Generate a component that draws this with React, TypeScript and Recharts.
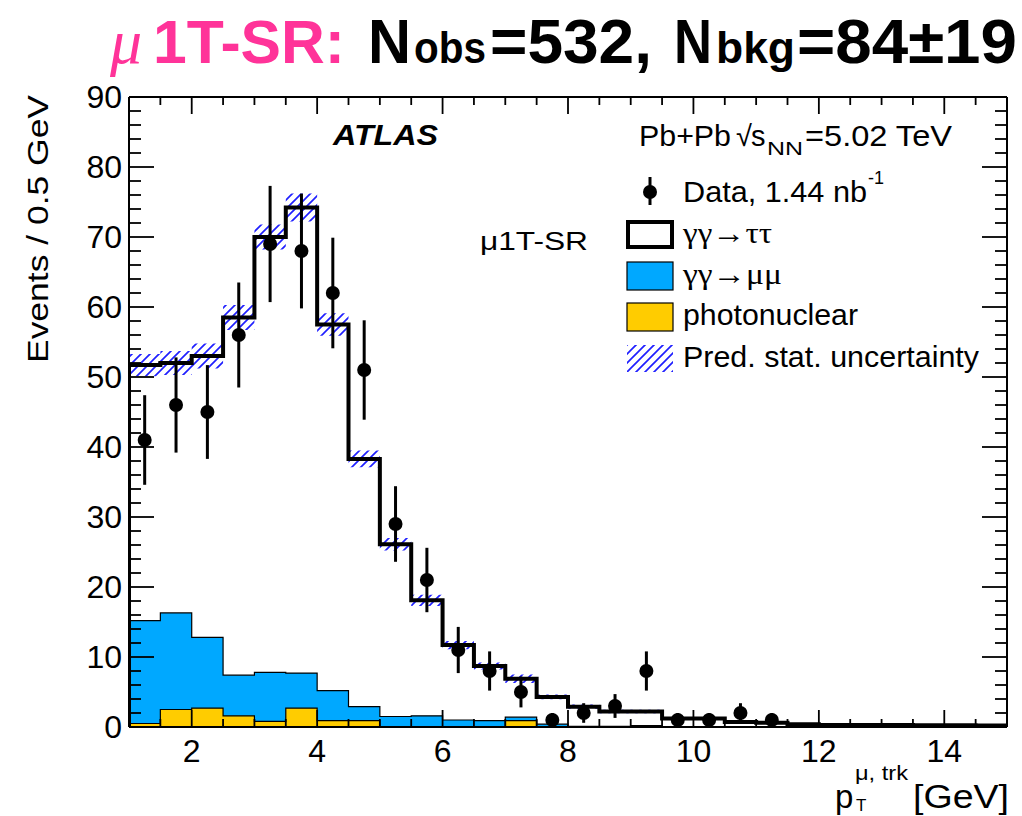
import React from 'react';
import { ComposedChart, Area, Line, Scatter, XAxis, YAxis, ErrorBar } from 'recharts';

// Bin lower edges (0.5 GeV bins from 1 to 15 GeV)
const binLow = [1, 1.5, 2, 2.5, 3, 3.5, 4, 4.5, 5, 5.5, 6, 6.5, 7, 7.5, 8, 8.5, 9, 9.5, 10, 10.5, 11, 11.5, 12, 12.5, 13, 13.5, 14, 14.5];
// Stack top of all predictions (gamma gamma -> tau tau on top)
const totalPred = [51.7, 52.0, 53.0, 58.5, 70.0, 74.2, 57.5, 38.3, 26.1, 18.1, 11.7, 8.7, 6.9, 4.3, 2.9, 2.2, 2.2, 1.2, 1.2, 0.7, 0.6, 0.4, 0.3, 0.3, 0.3, 0.25, 0.25, 0.2];
// Stack top of gamma gamma -> mu mu (includes photonuclear below)
const mumuTop = [15.2, 16.3, 12.8, 7.4, 7.8, 7.7, 5.2, 2.9, 1.5, 1.6, 1.0, 0.9, 1.4, 0.4, 0.1, 0.1, 0.2, 0.05, 0.05, 0, 0, 0, 0, 0, 0, 0, 0, 0];
// Photonuclear
const photoTop = [0.5, 2.5, 2.7, 1.6, 0.8, 2.7, 0.9, 0.9, 0, 0, 0, 0, 0.9, 0, 0, 0, 0, 0, 0, 0, 0, 0, 0, 0, 0, 0, 0, 0];
// Prediction stat. uncertainty (half width)
const predUnc = [1.6, 1.7, 1.8, 1.8, 1.8, 2.0, 1.6, 1.2, 0.9, 0.8, 0.6, 0.5, 0.6, 0.35, 0.3, 0.25, 0.25, 0.2, 0.2, 0.15, 0.15, 0.15, 0.15, 0.15, 0.15, 0.15, 0.15, 0.15];

// Data
const obsX = [1.25, 1.75, 2.25, 2.75, 3.25, 3.75, 4.25, 4.75, 5.25, 5.75, 6.25, 6.75, 7.25, 7.75, 8.25, 8.75, 9.25, 9.75, 10.25, 10.75, 11.25];
const obsY = [41, 46, 45, 56, 69, 68, 62, 51, 29, 21, 11, 8, 5, 1, 2, 3, 8, 1, 1, 2, 1];
const obsErr = [6.4, 6.8, 6.7, 7.5, 8.3, 8.2, 7.9, 7.1, 5.4, 4.6, 3.3, 2.8, 2.2, 1.0, 1.4, 1.7, 2.8, 1.0, 1.0, 1.4, 1.0];

const xTicks = [1, 1.5, 2, 2.5, 3, 3.5, 4, 4.5, 5, 5.5, 6, 6.5, 7, 7.5, 8, 8.5, 9, 9.5, 10, 10.5, 11, 11.5, 12, 12.5, 13, 13.5, 14, 14.5, 15];
const yTicks = [0, 2, 4, 6, 8, 10, 12, 14, 16, 18, 20, 22, 24, 26, 28, 30, 32, 34, 36, 38, 40, 42, 44, 46, 48, 50, 52, 54, 56, 58, 60, 62, 64, 66, 68, 70, 72, 74, 76, 78, 80, 82, 84, 86, 88, 90];

const FONT = '"Liberation Sans", Arial, Helvetica, sans-serif';
const SERIF = '"Liberation Serif", "Times New Roman", serif';
const BLUE = '#00a8ff';
const YELLOW = '#ffcc00';
const PINK = '#ff3399';
const HATCH = '#1f1fff';

const n = binLow.length;
const histData = [
  { x: 1, total: 0, mumu: 0, photo: 0, unc: [totalPred[0] - predUnc[0], totalPred[0] + predUnc[0]] },
  ...binLow.map((x, i) => ({
    x,
    total: totalPred[i],
    mumu: mumuTop[i],
    photo: photoTop[i],
    unc: [totalPred[i] - predUnc[i], totalPred[i] + predUnc[i]],
  })),
  {
    x: 15,
    total: totalPred[n - 1],
    mumu: mumuTop[n - 1],
    photo: photoTop[n - 1],
    unc: [totalPred[n - 1] - predUnc[n - 1], totalPred[n - 1] + predUnc[n - 1]],
  },
];

const obsData = obsX.map((x, i) => ({ x, y: obsY[i], err: obsErr[i] }));

const isMajorX = (v: number) => Math.abs(v / 2 - Math.round(v / 2)) < 1e-6;
const isMajorY = (v: number) => Math.abs(v / 10 - Math.round(v / 10)) < 1e-6;

const XTickBottom = (props: any) => {
  const { x, y, payload } = props;
  const v = payload.value;
  const major = isMajorX(v);
  return (
    <g>
      <line x1={x} x2={x} y1={y} y2={y - (major ? 17 : 8)} stroke="#000" strokeWidth={1.8} />
      {major && v > 1 && v < 15 && (
        <text x={x} y={y + 35} textAnchor="middle" fontSize={32} fontFamily={FONT} fill="#000">
          {v}
        </text>
      )}
    </g>
  );
};

const XTickTop = (props: any) => {
  const { x, y, payload } = props;
  const major = isMajorX(payload.value);
  return <line x1={x} x2={x} y1={y} y2={y + (major ? 17 : 8)} stroke="#000" strokeWidth={1.8} />;
};

const YTickLeft = (props: any) => {
  const { x, y, payload } = props;
  const v = payload.value;
  const major = isMajorY(v);
  return (
    <g>
      <line x1={x} x2={x + (major ? 25 : 12)} y1={y} y2={y} stroke="#000" strokeWidth={1.8} />
      {major && (
        <text x={x - 7} y={y + 11} textAnchor="end" fontSize={32} fontFamily={FONT} fill="#000">
          {v}
        </text>
      )}
    </g>
  );
};

const YTickRight = (props: any) => {
  const { x, y, payload } = props;
  const major = isMajorY(payload.value);
  return <line x1={x} x2={x - (major ? 25 : 12)} y1={y} y2={y} stroke="#000" strokeWidth={1.8} />;
};

const Dot = (p: any) => <circle cx={p.cx} cy={p.cy} r={7} fill="#000" />;

export default function App() {
  return (
    <div style={{ position: 'absolute', left: 0, top: 0, width: 1022, height: 816, background: '#fff' }}>
      <div style={{ position: 'absolute', left: 0, top: 0 }}>
        <ComposedChart
          width={1022}
          height={816}
          data={histData}
          margin={{ top: 96, right: 14, bottom: 49, left: 69 }}
        >
          <defs>
            <pattern id="hatch" patternUnits="userSpaceOnUse" width="9" height="9">
              <path d="M0,9 L9,0 M-2,2 L2,-2 M7,11 L11,7" stroke={HATCH} strokeWidth={1.7} />
            </pattern>
          </defs>
          <Area
            dataKey="mumu"
            type="stepAfter"
            fill={BLUE}
            fillOpacity={1}
            stroke="#000"
            strokeWidth={1.2}
            dot={false}
            activeDot={false}
            isAnimationActive={false}
          />
          <Area
            dataKey="photo"
            type="stepAfter"
            fill={YELLOW}
            fillOpacity={1}
            stroke="#000"
            strokeWidth={1.2}
            dot={false}
            activeDot={false}
            isAnimationActive={false}
          />
          <Area
            dataKey="unc"
            type="stepAfter"
            fill="url(#hatch)"
            fillOpacity={1}
            stroke="none"
            dot={false}
            activeDot={false}
            isAnimationActive={false}
          />
          <Line
            dataKey="total"
            type="stepAfter"
            stroke="#000"
            strokeWidth={4}
            strokeLinejoin="miter"
            dot={false}
            activeDot={false}
            isAnimationActive={false}
          />
          <Scatter data={obsData} dataKey="y" shape={Dot} isAnimationActive={false}>
            <ErrorBar dataKey="err" direction="y" width={0} stroke="#000" strokeWidth={3} isAnimationActive={false} />
          </Scatter>
          <XAxis
            dataKey="x"
            type="number"
            domain={[1, 15]}
            allowDataOverflow
            ticks={xTicks}
            interval={0}
            height={40}
            tickSize={0}
            tickMargin={0}
            tickLine={false}
            axisLine={{ stroke: '#000', strokeWidth: 2 }}
            tick={<XTickBottom />}
          />
          <XAxis
            xAxisId="top"
            orientation="top"
            dataKey="x"
            type="number"
            domain={[1, 15]}
            allowDataOverflow
            ticks={xTicks}
            interval={0}
            height={1}
            tickSize={0}
            tickMargin={0}
            tickLine={false}
            axisLine={{ stroke: '#000', strokeWidth: 2 }}
            tick={<XTickTop />}
          />
          <YAxis
            type="number"
            domain={[0, 90]}
            allowDataOverflow
            ticks={yTicks}
            interval={0}
            width={60}
            tickSize={0}
            tickMargin={0}
            tickLine={false}
            axisLine={{ stroke: '#000', strokeWidth: 2 }}
            tick={<YTickLeft />}
          />
          <YAxis
            yAxisId="right"
            orientation="right"
            type="number"
            domain={[0, 90]}
            allowDataOverflow
            ticks={yTicks}
            interval={0}
            width={1}
            tickSize={0}
            tickMargin={0}
            tickLine={false}
            axisLine={{ stroke: '#000', strokeWidth: 2 }}
            tick={<YTickRight />}
          />
        </ComposedChart>
      </div>
      <svg
        width={1022}
        height={816}
        style={{ position: 'absolute', left: 0, top: 0, pointerEvents: 'none' }}
      >
        <defs>
          <pattern id="hatch2" patternUnits="userSpaceOnUse" width="9" height="9">
            <path d="M0,9 L9,0 M-2,2 L2,-2 M7,11 L11,7" stroke={HATCH} strokeWidth={1.7} />
          </pattern>
        </defs>
        {/* Title */}
        <text x={110} y={63} fontSize={64} fontFamily={SERIF} fontStyle="italic" fill={PINK}>μ</text>
        <text x={153} y={63} fontSize={61} fontFamily={FONT} fontWeight="bold" fill={PINK} textLength={192} lengthAdjust="spacingAndGlyphs">1T-SR:</text>
        <text x={368} y={63} fontSize={63} fontFamily={FONT} fontWeight="bold" fill="#000" textLength={43} lengthAdjust="spacingAndGlyphs">N</text>
        <text x={414} y={63} fontSize={44} fontFamily={FONT} fontWeight="bold" fill="#000" textLength={72} lengthAdjust="spacingAndGlyphs">obs</text>
        <text x={490} y={63} fontSize={63} fontFamily={FONT} fontWeight="bold" fill="#000" textLength={162} lengthAdjust="spacingAndGlyphs">=532,</text>
        <text x={674} y={63} fontSize={63} fontFamily={FONT} fontWeight="bold" fill="#000" textLength={38} lengthAdjust="spacingAndGlyphs">N</text>
        <text x={716} y={63} fontSize={44} fontFamily={FONT} fontWeight="bold" fill="#000" textLength={79} lengthAdjust="spacingAndGlyphs">bkg</text>
        <text x={797} y={63} fontSize={63} fontFamily={FONT} fontWeight="bold" fill="#000" textLength={220} lengthAdjust="spacingAndGlyphs">=84±19</text>
        {/* ATLAS */}
        <text x={333} y={145} fontSize={30} fontFamily={FONT} fontWeight="bold" fontStyle="italic" textLength={105} lengthAdjust="spacingAndGlyphs">ATLAS</text>
        {/* Pb+Pb sqrt(s_NN) */}
        <text x={639} y={146} fontSize={29} fontFamily={FONT} textLength={92} lengthAdjust="spacingAndGlyphs">Pb+Pb</text>
        <text x={736} y={146} fontSize={29} fontFamily={FONT}>√</text>
        <text x={751} y={146} fontSize={29} fontFamily={FONT}>s</text>
        <text x={767} y={155} fontSize={18} fontFamily={FONT} textLength={36} lengthAdjust="spacingAndGlyphs">NN</text>
        <text x={805} y={146} fontSize={29} fontFamily={FONT} textLength={147} lengthAdjust="spacingAndGlyphs">=5.02 TeV</text>
        {/* In-plot region label */}
        <text x={480} y={250} fontSize={26} fontFamily={FONT} textLength={108} lengthAdjust="spacingAndGlyphs">μ1T-SR</text>
        {/* Legend */}
        <line x1={650} x2={650} y1={177} y2={205} stroke="#000" strokeWidth={3} />
        <circle cx={650} cy={192} r={7} fill="#000" />
        <text x={683} y={202} fontSize={29} fontFamily={FONT} textLength={184} lengthAdjust="spacingAndGlyphs">Data, 1.44 nb</text>
        <text x={868} y={184} fontSize={18} fontFamily={FONT}>-1</text>
        <rect x={628} y={222} width={44} height={25} fill="#fff" stroke="#000" strokeWidth={4} />
        <text x={683} y={243} fontSize={30} fontFamily={SERIF} textLength={89} lengthAdjust="spacingAndGlyphs">γγ→ττ</text>
        <rect x={627} y={262} width={46} height={28} fill={BLUE} stroke="#000" strokeWidth={1.2} />
        <text x={683} y={284} fontSize={30} fontFamily={SERIF} textLength={99} lengthAdjust="spacingAndGlyphs">γγ→μμ</text>
        <rect x={627} y={303} width={46} height={28} fill={YELLOW} stroke="#000" strokeWidth={1.2} />
        <text x={683} y={325} fontSize={29} fontFamily={FONT} textLength={175} lengthAdjust="spacingAndGlyphs">photonuclear</text>
        <rect x={627} y={345} width={46} height={27} fill="url(#hatch2)" />
        <text x={683} y={367} fontSize={29} fontFamily={FONT} textLength={296} lengthAdjust="spacingAndGlyphs">Pred. stat. uncertainty</text>
        {/* Y axis title */}
        <text transform="translate(48,229) rotate(-90)" textAnchor="middle" fontSize={30} fontFamily={FONT} textLength={268} lengthAdjust="spacingAndGlyphs">
          Events / 0.5 GeV
        </text>
        {/* X axis title */}
        <text x={835} y={808} fontSize={33} fontFamily={FONT}>p</text>
        <text x={855} y={780} fontSize={21} fontFamily={FONT} textLength={53} lengthAdjust="spacingAndGlyphs">μ, trk</text>
        <text x={856} y={811} fontSize={17} fontFamily={FONT}>T</text>
        <text x={913} y={808} fontSize={33} fontFamily={FONT} textLength={96} lengthAdjust="spacingAndGlyphs">[GeV]</text>
      </svg>
    </div>
  );
}
